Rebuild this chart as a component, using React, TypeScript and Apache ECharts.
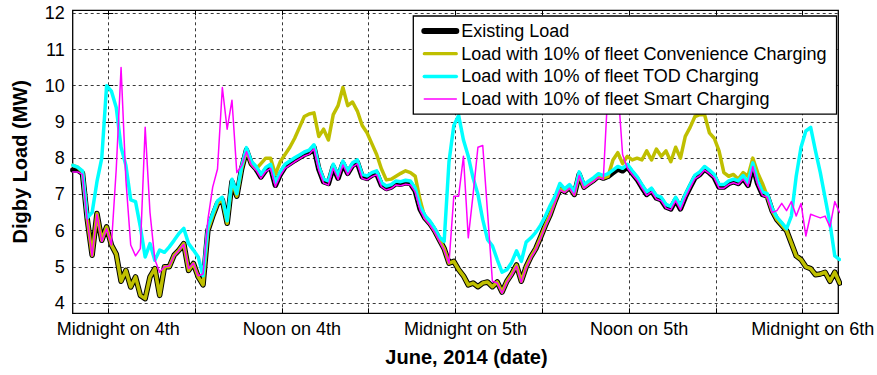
import React, { useEffect, useRef } from "react";
import * as echarts from "echarts";

// 20-minute load samples; time is in hours relative to midnight on 4 June 2014
const START_HOUR = -2.45;
const STEP_HOURS = 1 / 3;

const existingLoad = [
  7.67, 7.67, 7.58, 6.3, 5.32, 6.47, 5.73, 6.1, 5.6, 5.35,
  4.6, 4.9, 4.44, 4.72, 4.21, 4.12, 4.72, 4.95, 4.21, 5.0,
  5.0, 5.32, 5.46, 5.64, 4.9, 5.09, 4.72, 4.5, 6.0, 6.4,
  6.75, 6.85, 6.2, 7.35, 6.95, 7.7, 8.22, 7.85, 7.7, 7.48,
  7.67, 7.76, 7.25, 7.55, 7.76, 7.85, 7.94, 8.02, 8.1, 8.15,
  8.3, 7.7, 7.35, 7.3, 7.76, 7.45, 7.85, 7.58, 7.8, 7.88,
  7.48, 7.44, 7.53, 7.58, 7.25, 7.16, 7.2, 7.3, 7.28, 7.32,
  7.3, 7.1, 6.6, 6.35, 6.2, 6.0, 5.75, 5.5, 5.1, 5.15,
  4.92, 4.75, 4.5, 4.55, 4.45, 4.55, 4.58, 4.45, 4.58, 4.3,
  4.6, 4.8, 5.05, 4.6, 5.0, 5.28, 5.5, 5.82, 6.15, 6.45,
  6.82, 7.15, 7.08, 7.2, 7.0, 7.55, 7.2, 7.3, 7.39, 7.5,
  7.45, 7.5, 7.6, 7.7, 7.65, 7.76, 7.58, 7.42, 7.2, 7.0,
  7.1, 6.9, 6.85, 6.65, 6.6, 6.85, 6.6, 6.93, 7.2, 7.46,
  7.55, 7.7, 7.6, 7.48, 7.2, 7.2, 7.3, 7.35, 7.3, 7.45,
  7.25, 7.8, 7.3, 7.0, 6.95, 6.55, 6.3, 6.15, 6.0, 5.65,
  5.3, 5.2, 5.0, 4.95, 4.78, 4.8, 4.85, 4.6, 4.85, 4.55,
];

const convenienceLoad = [
  7.8, 7.75, 7.62, 6.3, 5.32, 6.47, 5.73, 6.1, 5.6, 5.35,
  4.6, 4.9, 4.44, 4.72, 4.21, 4.12, 4.72, 4.95, 4.21, 5.0,
  5.0, 5.32, 5.46, 5.64, 4.9, 5.09, 4.72, 4.5, 6.0, 6.4,
  6.75, 6.85, 6.2, 7.35, 6.95, 7.7, 8.22, 7.85, 7.7, 7.85,
  8.0, 8.0, 7.55, 7.9, 8.1, 8.3, 8.55, 8.85, 9.15, 9.22,
  9.25, 8.6, 8.8, 8.5, 9.2, 9.45, 9.95, 9.45, 9.55, 9.3,
  8.9, 8.7, 8.4, 8.1, 7.7, 7.4, 7.42, 7.5, 7.58, 7.65,
  7.6, 7.5, 6.85, 6.35, 6.2, 6.0, 5.75, 5.5, 5.1, 5.15,
  4.92, 4.75, 4.5, 4.55, 4.45, 4.55, 4.58, 4.45, 4.58, 4.3,
  4.6, 4.8, 5.05, 4.6, 5.0, 5.28, 5.5, 5.82, 6.15, 6.45,
  6.82, 7.15, 7.08, 7.2, 7.0, 7.55, 7.2, 7.3, 7.39, 7.5,
  7.45, 7.5, 7.95, 8.15, 7.85, 8.05, 7.95, 8.0, 7.95, 8.2,
  7.95, 8.25, 8.05, 8.2, 7.9, 8.3, 8.0, 8.6, 8.85, 9.15,
  9.2, 9.2, 8.7, 8.55, 8.2, 7.6, 7.5, 7.55, 7.42, 7.6,
  7.5, 8.0, 7.6, 7.3, 6.95, 6.55, 6.3, 6.15, 6.0, 5.65,
  5.3, 5.2, 5.0, 4.95, 4.78, 4.8, 4.85, 4.6, 4.85, 4.55,
];

const todLoad = [
  7.8, 7.75, 7.65, 6.35, 6.5, 7.35, 8.0, 10.0, 9.85, 9.4,
  8.3, 7.8, 6.85, 6.8, 6.1, 5.27, 5.64, 5.18, 5.46, 5.4,
  5.55, 5.73, 5.92, 6.06, 5.64, 5.46, 5.27, 4.75, 6.1, 6.47,
  6.82, 6.92, 6.27, 7.42, 7.02, 7.77, 8.29, 7.92, 7.77, 7.55,
  7.74, 7.83, 7.32, 7.62, 7.83, 7.92, 8.01, 8.09, 8.17, 8.22,
  8.37, 7.77, 7.42, 7.37, 7.83, 7.52, 7.92, 7.65, 7.87, 7.95,
  7.55, 7.51, 7.6, 7.65, 7.32, 7.23, 7.27, 7.37, 7.35, 7.39,
  7.37, 7.17, 6.67, 6.42, 6.27, 6.07, 5.82, 5.7, 7.9, 8.9,
  9.18, 8.5, 8.05, 7.45, 7.0, 6.3, 5.75, 5.58, 5.2, 4.85,
  4.92, 5.12, 5.44, 5.15, 5.68, 5.8, 5.95, 6.15, 6.4, 6.7,
  6.95, 7.3, 7.15, 7.27, 7.07, 7.62, 7.27, 7.37, 7.46, 7.57,
  7.52, 7.57, 7.67, 7.77, 7.72, 7.83, 7.65, 7.49, 7.27, 7.07,
  7.17, 6.97, 6.92, 6.72, 6.67, 6.92, 6.67, 7.0, 7.27, 7.53,
  7.62, 7.77, 7.67, 7.55, 7.27, 7.27, 7.37, 7.42, 7.37, 7.52,
  7.32, 7.87, 7.37, 7.07, 7.02, 6.62, 6.37, 6.22, 6.05, 6.4,
  7.5, 8.3, 8.75, 8.85, 8.2, 7.6, 6.9, 6.2, 5.3, 5.2,
];

const smartLoad = [
  7.62, 7.62, 7.55, 6.25, 5.3, 6.45, 5.7, 6.05, 5.6, 7.7,
  10.5, 7.4, 5.6, 5.3, 5.5, 8.85, 6.5, 5.2, 4.85, 5.0,
  5.02, 5.3, 5.45, 5.62, 4.95, 5.1, 4.75, 4.8, 6.3, 7.2,
  7.7, 9.95, 8.8, 9.6, 7.6, 7.8, 8.18, 7.81, 7.66, 7.44,
  7.63, 7.72, 7.21, 7.51, 7.72, 7.81, 7.9, 7.98, 8.06, 8.11,
  8.26, 7.66, 7.31, 7.26, 7.72, 7.41, 7.81, 7.54, 7.76, 7.84,
  7.44, 7.4, 7.49, 7.54, 7.21, 7.12, 7.16, 7.26, 7.24, 7.28,
  7.26, 7.06, 6.56, 6.31, 6.16, 5.96, 5.71, 5.46, 5.1, 6.95,
  6.95, 8.05, 5.8, 7.0, 8.3, 8.35, 6.5, 4.6, 4.55, 4.27,
  4.57, 4.77, 5.02, 4.57, 4.97, 5.25, 5.47, 5.79, 6.12, 6.42,
  6.79, 7.12, 7.05, 7.17, 6.97, 7.52, 7.17, 7.27, 7.36, 7.47,
  7.42, 10.0, 10.3, 10.0, 8.1, 7.72, 7.55, 7.39, 7.17, 6.97,
  7.07, 6.87, 6.82, 6.62, 6.57, 6.82, 6.57, 6.9, 7.17, 7.43,
  7.52, 7.67, 7.57, 7.45, 7.17, 7.17, 7.27, 7.32, 7.27, 7.42,
  7.22, 7.77, 7.27, 6.97, 6.92, 6.5, 6.55, 6.75, 6.55, 6.8,
  6.4, 6.75, 5.85, 6.45, 6.4, 6.35, 6.4, 6.1, 6.8, 6.5,
];

const seriesNames = [
  "Existing Load",
  "Load with 10% of fleet Convenience Charging",
  "Load with 10% of fleet TOD Charging",
  "Load with 10% of fleet Smart Charging",
];

const timeTicks = [0, 6, 12, 18, 24, 30, 36, 42, 48];
const timeLabelHours = [0, 12, 24, 36, 48];
const timeLabels = [
  "Midnight on 4th",
  "Noon on 4th",
  "Midnight on 5th",
  "Noon on 5th",
  "Midnight on 6th",
];
const loadTicks = [4, 5, 6, 7, 8, 9, 10, 11, 12];

const X_MIN = -2.46;
const X_MAX = 50.46;
const Y_MIN = 3.715;
const Y_MAX = 12.083;

const FONT = "'Liberation Sans', Arial, Helvetica, sans-serif";

function toPoints(values: number[]) {
  return values.map((v, i) => [START_HOUR + i * STEP_HOURS, v]);
}

export default function App() {
  const ref = useRef<HTMLDivElement>(null);

  useEffect(() => {
    if (!ref.current) return;
    const chart = echarts.init(ref.current, undefined, { renderer: "svg" });

    const gridLine = {
      show: true,
      lineStyle: { color: "#222", width: 0.9, type: [3, 3] as any },
    };

    const colors = ["#000000", "#bfbf00", "#00ffff", "#ff00ff"];
    const widths = [5.5, 3.5, 3.5, 1.5];
    const legendWidths = [6, 3.2, 3.5, 1.5];
    const allSeries = [existingLoad, convenienceLoad, todLoad, smartLoad];

    chart.setOption({
      animation: false,
      backgroundColor: "#ffffff",
      textStyle: { fontFamily: FONT },
      grid: {
        left: 72.7,
        right: 38.7,
        top: 10.3,
        bottom: 61.7,
        show: true,
        borderColor: "#000",
        borderWidth: 1.3,
        backgroundColor: "transparent",
        outerBoundsMode: "none",
      } as any,
      legend: {
        orient: "vertical",
        left: 413.3,
        top: 16,
        padding: [6, 10, 6, 8],
        itemWidth: 32,
        itemHeight: 14,
        itemGap: 4.7,
        backgroundColor: "#ffffff",
        borderColor: "#000",
        borderWidth: 1.3,
        borderRadius: 0,
        selectedMode: false,
        textStyle: { fontSize: 18, color: "#000", fontFamily: FONT },
        data: seriesNames.map((name, k) => ({
          name,
          lineStyle: { width: legendWidths[k], color: colors[k] },
          itemStyle: {
            color: "transparent",
            borderColor: "transparent",
            borderWidth: 0,
            opacity: 0,
          },
        })),
      },
      xAxis: [
        {
          type: "value",
          min: X_MIN,
          max: X_MAX,
          position: "bottom",
          axisLine: { show: false },
          axisTick: {
            show: true,
            inside: true,
            length: 5,
            customValues: timeTicks,
            lineStyle: { color: "#000", width: 1 },
          },
          axisLabel: {
            customValues: timeLabelHours,
            formatter: (v: number) => {
              const k = timeLabelHours.indexOf(Math.round(v));
              return k >= 0 ? timeLabels[k] : "";
            },
            fontSize: 18,
            color: "#000",
            fontFamily: FONT,
            margin: 7,
            padding: [0, 0, 0, 20],
          },
          splitLine: gridLine,
          name: "June, 2014 (date)",
          nameLocation: "middle",
          nameGap: 34,
          nameTextStyle: {
            fontSize: 20,
            fontWeight: "bold",
            color: "#000",
            fontFamily: FONT,
            padding: [0, 0, 0, 22],
          },
        },
        {
          type: "value",
          min: X_MIN,
          max: X_MAX,
          position: "top",
          axisLine: { show: false },
          axisTick: {
            show: true,
            inside: true,
            length: 5,
            customValues: timeTicks,
            lineStyle: { color: "#000", width: 1 },
          },
          axisLabel: { show: false },
          splitLine: { show: false },
        },
      ],
      yAxis: [
        {
          type: "value",
          min: Y_MIN,
          max: Y_MAX,
          position: "left",
          axisLine: { show: false },
          axisTick: {
            show: true,
            inside: true,
            length: 5,
            customValues: loadTicks,
            lineStyle: { color: "#000", width: 1 },
          },
          axisLabel: {
            customValues: loadTicks,
            fontSize: 18,
            color: "#000",
            fontFamily: FONT,
            margin: 8,
          },
          splitLine: gridLine,
          name: "Digby Load (MW)",
          nameLocation: "middle",
          nameGap: 43,
          nameRotate: 90,
          nameTextStyle: {
            fontSize: 20,
            fontWeight: "bold",
            color: "#000",
            fontFamily: FONT,
          },
        },
        {
          type: "value",
          min: Y_MIN,
          max: Y_MAX,
          position: "right",
          axisLine: { show: false },
          axisTick: {
            show: true,
            inside: true,
            length: 5,
            customValues: loadTicks,
            lineStyle: { color: "#000", width: 1 },
          },
          axisLabel: { show: false },
          splitLine: { show: false },
        },
      ],
      series: allSeries.map((values, k) => ({
        name: seriesNames[k],
        type: "line",
        xAxisIndex: 0,
        yAxisIndex: 0,
        data: toPoints(values),
        symbol: "none",
        showSymbol: false,
        clip: true,
        color: colors[k],
        lineStyle: { color: colors[k], width: widths[k], join: "round", cap: "round" },
        emphasis: { disabled: true },
        z: 2 + k * 0.01,
      })),
    });

    return () => chart.dispose();
  }, []);

  return (
    <div
      ref={ref}
      style={{ position: "fixed", left: 0, top: 0, width: 877, height: 375, background: "#fff" }}
    />
  );
}
